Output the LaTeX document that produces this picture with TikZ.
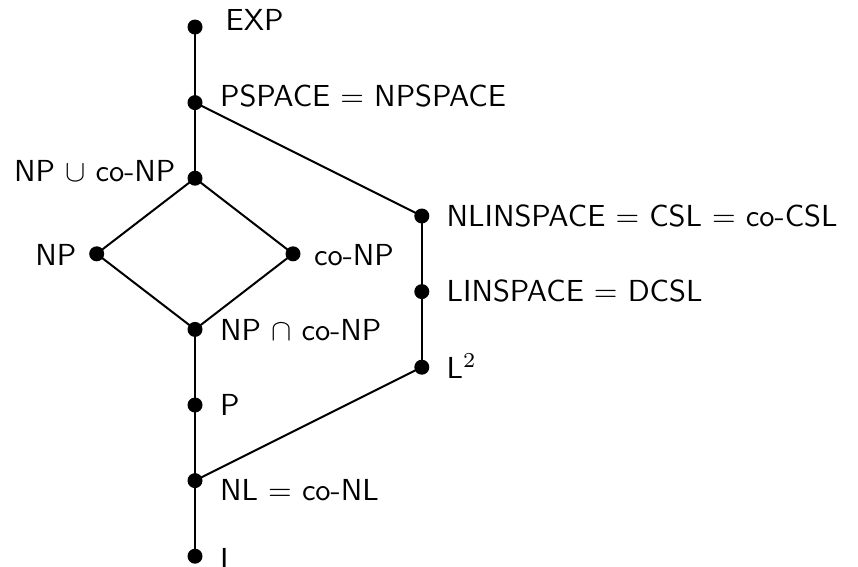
\documentclass[tikz,border=0pt]{standalone}
\begin{document}
\begin{tikzpicture}[x=1pt,y=-1pt,
  dot/.style={circle,fill=black,draw=none,inner sep=0pt,minimum size=15pt},
  lab/.style={inner sep=0pt,font=\sffamily\fontsize{10}{12}\selectfont,scale=3.04,transform shape},
  conn/.style={line width=2pt}]
\useasboundingbox (0,0) rectangle (858,566);
% dots
\node[dot] (exp) at (195,27) {};
\node[dot] (pspace) at (195,102.6) {};
\node[dot] (npu) at (195,178.2) {};
\node[dot] (np) at (96.7,253.8) {};
\node[dot] (conp) at (293,253.8) {};
\node[dot] (npn) at (195,329.4) {};
\node[dot] (p) at (195,405) {};
\node[dot] (nl) at (195,480.6) {};
\node[dot] (l) at (195,556.2) {};
\node[dot] (nlin) at (421.8,216) {};
\node[dot] (lin) at (421.8,291.6) {};
\node[dot] (l2) at (421.8,367.2) {};
% labels
\node[lab,anchor=base west] (texp) at (225,30) {EXP};
\node[lab,anchor=base west] (tpspace) at (219.5,106) {PSPACE $=$ NPSPACE};
\node[lab,anchor=base east] (tnpu) at (176,181.7) {NP $\cup$ co-NP};
\node[lab,anchor=base east] (tnp) at (77,265) {NP};
\node[lab,anchor=base west] (tconp) at (313.5,265) {co-NP};
\node[lab,anchor=base west] (tnpn) at (219.5,340.7) {NP $\cap$ co-NP};
\node[lab,anchor=base west] (tp) at (219.5,415.7) {P};
\node[lab,anchor=base west] (tnl) at (219.5,500) {NL $=$ co-NL};
\node[lab,anchor=base west] (tl) at (219.5,569) {L};
\node[lab,anchor=base west] (tnlin) at (446,226) {NLINSPACE $=$ CSL $=$ co-CSL};
\node[lab,anchor=base west] (tlin) at (446,301.5) {LINSPACE $=$ DCSL};
\node[lab,anchor=base west] (tl2) at (446,378.5) {L$^2$};
% connectors
\draw[conn] (exp.center) -- (pspace.center);
\draw[conn] (pspace.center) -- (npu.center);
\draw[conn] (npu.center) -- (np.center);
\draw[conn] (npu.center) -- (conp.center);
\draw[conn] (np.center) -- (npn.center);
\draw[conn] (conp.center) -- (npn.center);
\draw[conn] (npn.center) -- (p.center);
\draw[conn] (p.center) -- (nl.center);
\draw[conn] (nl.center) -- (l.center);
\draw[conn] (pspace.center) -- (nlin.center);
\draw[conn] (nlin.center) -- (lin.center);
\draw[conn] (lin.center) -- (l2.center);
\draw[conn] (l2.center) -- (nl.center);
\end{tikzpicture}
\end{document}
